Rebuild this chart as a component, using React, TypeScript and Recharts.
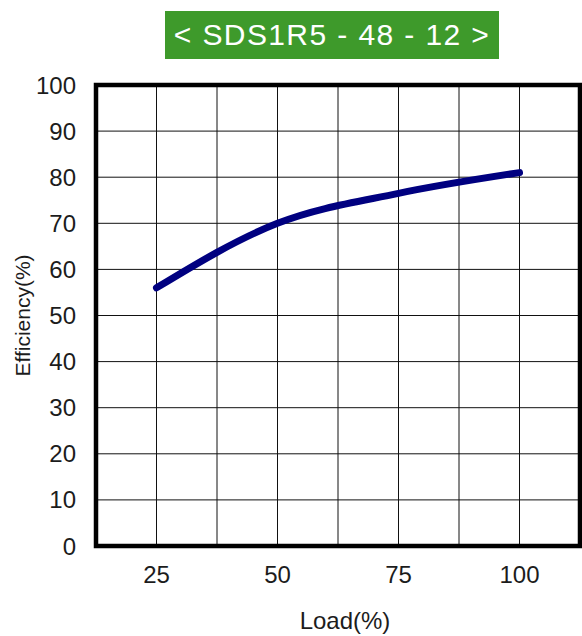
import React from "react";
import {
  LineChart,
  Line,
  XAxis,
  YAxis,
  CartesianGrid,
  ReferenceArea,
  Label,
} from "recharts";

const loads = [25, 50, 75, 100];
const efficiency = [56, 70, 76.5, 81];

const xGridTicks = [12.5, 25, 37.5, 50, 62.5, 75, 87.5, 100, 112.5];
const xLabelTicks = [25, 50, 75, 100];
const yTicks = [0, 10, 20, 30, 40, 50, 60, 70, 80, 90, 100];

const title = "< SDS1R5 - 48 - 12 >";
const xTitle = "Load(%)";
const yTitle = "Efficiency(%)";

const data = loads.map((load, i) => ({ load, eff: efficiency[i] }));

const FONT = "'Liberation Sans', Arial, Helvetica, sans-serif";
const TEXT = "#1c1c1c";

function YTitle({ viewBox }: any) {
  const x = viewBox.x + 22;
  const y = viewBox.y + viewBox.height / 2;
  return (
    <text
      x={x}
      y={y}
      transform={`rotate(-90, ${x}, ${y})`}
      textAnchor="middle"
      dominantBaseline="central"
      fill={TEXT}
      fontSize={21}
      fontFamily={FONT}
    >
      {yTitle}
    </text>
  );
}

export default function App() {
  return (
    <div
      style={{
        position: "absolute",
        left: 0,
        top: 0,
        width: 582,
        height: 636,
        background: "#fff",
        fontFamily: FONT,
      }}
    >
      <div
        style={{
          position: "absolute",
          left: 165,
          top: 11,
          width: 334,
          height: 48,
          background: "#3e9a2b",
          color: "#fff",
          fontSize: 30,
          letterSpacing: 1.4,
          display: "flex",
          alignItems: "center",
          justifyContent: "center",
          whiteSpace: "pre",
        }}
      >
        {title}
      </div>
      <LineChart
        width={582}
        height={636}
        data={data}
        margin={{ top: 85, right: 2, bottom: 0, left: 0 }}
      >
        <CartesianGrid stroke="#111" strokeWidth={1} fill="none" />
        <XAxis
          dataKey="load"
          type="number"
          domain={[12.5, 112.5]}
          ticks={xGridTicks}
          tickFormatter={(v: number) => (xLabelTicks.includes(v) ? String(v) : "")}
          tick={{ fill: TEXT, fontSize: 24, fontFamily: FONT }}
          tickLine={false}
          axisLine={false}
          tickMargin={14}
          height={90}
          interval={0}
        >
          <Label
            value={xTitle}
            position="insideBottom"
            offset={7}
            dx={7}
            fill={TEXT}
            fontSize={24}
            fontFamily={FONT}
          />
        </XAxis>
        <YAxis
          type="number"
          domain={[0, 100]}
          ticks={yTicks}
          tick={{ fill: TEXT, fontSize: 24, fontFamily: FONT }}
          tickLine={false}
          axisLine={false}
          tickMargin={14}
          width={96}
          interval={0}
        >
          <Label content={<YTitle />} />
        </YAxis>
        <Line
          type="monotone"
          dataKey="eff"
          stroke="#000080"
          strokeWidth={7}
          strokeLinecap="round"
          dot={false}
          isAnimationActive={false}
        />
        <ReferenceArea
          x1={12.5}
          x2={112.5}
          y1={0}
          y2={100}
          fill="none"
          fillOpacity={0}
          stroke="#000"
          strokeWidth={4.5}
        />
      </LineChart>
    </div>
  );
}
